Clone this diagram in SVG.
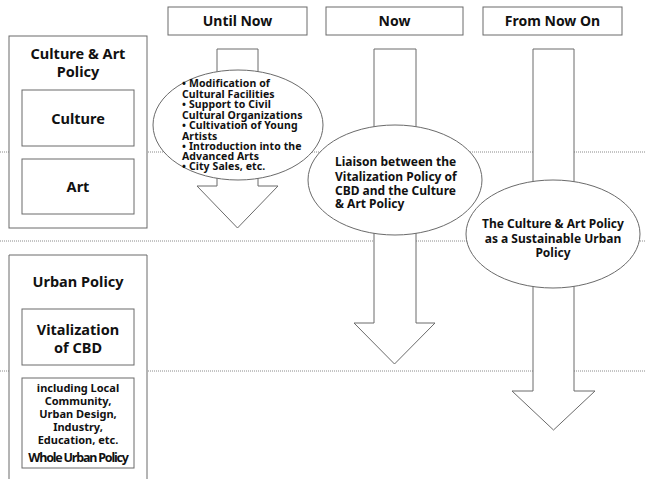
<svg xmlns="http://www.w3.org/2000/svg" width="645" height="479" viewBox="0 0 645 479">
<style>
.box{fill:#fff;stroke:#6a6a6a;stroke-width:1}
.arr{fill:#fff;stroke:#6a6a6a;stroke-width:1}
.ell{fill:#fff;stroke:#6a6a6a;stroke-width:1}
.dash{stroke:#8a8a8a;stroke-width:1;stroke-dasharray:1 1;fill:none}
text{font-family:"Noto Sans","Open Sans",sans-serif;font-weight:bold;fill:#111}
.hd{font-size:14px;text-anchor:middle}
.tl{font-size:14.5px;text-anchor:middle}
.sm{font-size:11px}
.md{font-size:12px}
</style>
<rect width="645" height="479" fill="#fff"/>
<g id="connectors">
<line class="dash" x1="0" y1="152" x2="645" y2="152"/>
<line class="dash" x1="0" y1="241" x2="645" y2="241"/>
<line class="dash" x1="0" y1="371" x2="645" y2="371"/>
<polygon class="arr" points="217,49 258,49 258,186 278,186 237.5,228 197,186 217,186"/>
<polygon class="arr" points="374,49 416,49 416,323 435,323 394.5,364 354,323 374,323"/>
<polygon class="arr" points="533,49 574,49 574,391 595,391 553.5,430 512,391 533,391"/>
</g>
<g id="h-until"><rect class="box" x="168" y="7" width="139" height="28"/><text class="hd" x="237.5" y="26">Until Now</text></g>
<g id="h-now"><rect class="box" x="326" y="7" width="137" height="28"/><text class="hd" x="394.5" y="26">Now</text></g>
<g id="h-from"><rect class="box" x="483" y="7" width="139" height="28"/><text class="hd" x="552.5" y="26">From Now On</text></g>
<g id="culture-art-policy">
<rect class="box" x="9" y="36" width="138" height="192"/>
<text class="tl" x="78" y="59">Culture &amp; Art</text>
<text class="tl" x="78" y="77">Policy</text>
</g>
<g id="culture"><rect class="box" x="22" y="90" width="112" height="56"/><text class="tl" x="78" y="124">Culture</text></g>
<g id="art"><rect class="box" x="22" y="159" width="112" height="55"/><text class="tl" x="78" y="192">Art</text></g>
<g id="urban-policy">
<path class="box" d="M9,479 V255 H147 V479"/>
<text class="tl" x="78" y="287">Urban Policy</text>
</g>
<g id="vitalization"><rect class="box" x="22" y="309" width="112" height="56"/><text class="tl" x="78" y="335">Vitalization</text><text class="tl" x="78" y="353">of CBD</text></g>
<g id="whole-urban">
<rect class="box" x="22" y="378" width="112" height="90"/>
<text class="sm" text-anchor="middle" x="78" y="392">including Local</text>
<text class="sm" text-anchor="middle" x="78" y="405">Community,</text>
<text class="sm" text-anchor="middle" x="78" y="418">Urban Design,</text>
<text class="sm" text-anchor="middle" x="78" y="431">Industry,</text>
<text class="sm" text-anchor="middle" x="78" y="444">Education, etc.</text>
<text text-anchor="middle" x="78" y="462" font-size="12.5" letter-spacing="-1.2">Whole Urban Policy</text>
</g>
<g id="until-ellipse">
<ellipse class="ell" cx="238" cy="125" rx="85" ry="55"/>
<g font-size="10.5" letter-spacing="0.1">
<text x="182" y="87">• Modification of</text>
<text x="182" y="97.5">Cultural Facilities</text>
<text x="182" y="108">• Support to Civil</text>
<text x="182" y="118.5">Cultural Organizations</text>
<text x="182" y="129">• Cultivation of Young</text>
<text x="182" y="139.5">Artists</text>
<text x="182" y="150">• Introduction into the</text>
<text x="182" y="160">Advanced Arts</text>
<text x="182" y="170">• City Sales, etc.</text>
</g>
</g>
<g id="now-ellipse">
<ellipse class="ell" cx="395" cy="180" rx="87" ry="55"/>
<g class="md">
<text x="335" y="166">Liaison between the</text>
<text x="335" y="181">Vitalization Policy of</text>
<text x="335" y="195">CBD and the Culture</text>
<text x="335" y="208">&amp; Art Policy</text>
</g>
</g>
<g id="from-ellipse">
<ellipse class="ell" cx="553" cy="234" rx="87" ry="54"/>
<g class="md" text-anchor="middle">
<text x="553" y="228">The Culture &amp; Art Policy</text>
<text x="553" y="243">as a Sustainable Urban</text>
<text x="553" y="257">Policy</text>
</g>
</g>
</svg>
